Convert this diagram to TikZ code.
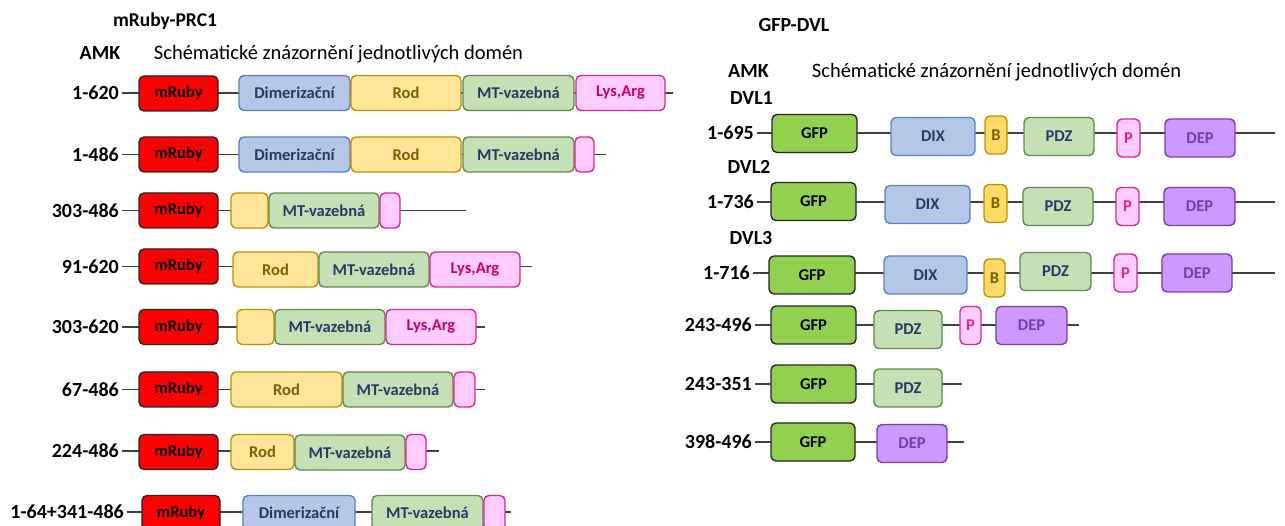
\documentclass[tikz,border=0pt]{standalone}
\usepackage{fontspec}
\setmainfont{Carlito}
\usetikzlibrary{positioning}

\definecolor{rubyred}{HTML}{FF0000}
\definecolor{dimblue}{HTML}{B4C7E7}
\definecolor{dimedge}{HTML}{5B80C4}
\definecolor{navytext}{HTML}{263A66}
\definecolor{rodyellow}{HTML}{FFE699}
\definecolor{rodedge}{HTML}{BF9000}
\definecolor{rodtext}{HTML}{7F6000}
\definecolor{mtgreen}{HTML}{C5E0B4}
\definecolor{mtedge}{HTML}{5E8A4A}
\definecolor{lyspink}{HTML}{FFCCFF}
\definecolor{lysedge}{HTML}{E0258A}
\definecolor{lystext}{HTML}{CC0066}
\definecolor{gfpgreen}{HTML}{92D050}
\definecolor{byellow}{HTML}{FFD966}
\definecolor{deppurple}{HTML}{CC99FF}
\definecolor{depedge}{HTML}{7A3AB0}

\begin{document}
\begin{tikzpicture}[x=1pt,y=-1pt,
    dom/.style={draw, rounded corners=5pt, line width=1.4pt, minimum height=35pt,
        inner sep=0pt, font=\bfseries\fontsize{16.5}{17}\selectfont},
    ruby/.style={dom, fill=rubyred, draw=black!85, text=black},
    dimer/.style={dom, fill=dimblue, draw=dimedge, text=navytext},
    rod/.style={dom, fill=rodyellow, draw=rodedge, text=rodtext},
    mtb/.style={dom, fill=mtgreen, draw=mtedge, text=navytext},
    lys/.style={dom, fill=lyspink, draw=lysedge, text=lystext},
    gfp/.style={dom, minimum height=38pt, fill=gfpgreen, draw=black!85, text=black},
    dix/.style={dimer, minimum height=38pt},
    bbox/.style={dom, minimum height=38pt, fill=byellow, draw=rodedge, text=rodtext},
    pdz/.style={mtb, minimum height=38pt},
    pbox/.style={lys, minimum height=38pt, text=lysedge},
    dep/.style={dom, minimum height=38pt, fill=deppurple, draw=depedge, text=depedge},
    head/.style={anchor=base, inner sep=0pt, font=\fontsize{20.5}{21}\selectfont},
    amk/.style={anchor=base, inner sep=0pt, font=\bfseries\fontsize{20}{21}\selectfont},
    lbl/.style={anchor=east, inner sep=3pt, font=\bfseries\fontsize{20}{21}\selectfont},
    chain/.style={line width=1.2pt, draw=black!75}]

\clip (0,0) rectangle (1285,526);

%%%% mRuby-PRC1
\node[amk, font=\bfseries\fontsize{19.5}{21}\selectfont] (ttl) at (165,27) {mRuby-PRC1};
\node[amk] (amkl) at (100,60) {AMK};
\node[head] (schl) at (338.5,60) {Schématické znázornění jednotlivých domén};

% 1-620
\node[lbl] (a1) at (122,93) {1-620};
\coordinate (a1e) at (673,93);
\draw[chain] (a1) -- (a1e);
\node[ruby, minimum width=79] (a1r) at (178.5,93.5) {mRuby};
\node[dimer, minimum width=111] (a1d) at (294.5,93) {Dimerizační};
\node[rod, minimum width=110] (a1o) at (406,93) {Rod};
\node[mtb, minimum width=111] (a1m) at (518.5,93) {MT-vazebná};
\node[lys, minimum width=89] (a1l) at (620.5,93) {Lys,Arg};

% 1-486
\node[lbl] (a2) at (122,154.5) {1-486};
\coordinate (a2e) at (606,154.5);
\draw[chain] (a2) -- (a2e);
\node[ruby, minimum width=79] (a2r) at (178.5,154.5) {mRuby};
\node[dimer, minimum width=111] (a2d) at (294.5,154.5) {Dimerizační};
\node[rod, minimum width=110] (a2o) at (406,154.5) {Rod};
\node[mtb, minimum width=111] (a2m) at (518.5,154.5) {MT-vazebná};
\node[lys, minimum width=19] (a2l) at (584.5,154.5) {};

% 303-486
\node[lbl] (a3) at (122,210.5) {303-486};
\coordinate (a3e) at (466,210.5);
\draw[chain] (a3) -- (a3e);
\node[ruby, minimum width=79] (a3r) at (178.5,210.5) {mRuby};
\node[rod, minimum width=37] (a3o) at (249.5,210.5) {};
\node[mtb, minimum width=110] (a3m) at (324,210.5) {MT-vazebná};
\node[lys, minimum width=20] (a3l) at (390,210.5) {};

% 91-620
\node[lbl] (a4) at (122,266.5) {91-620};
\coordinate (a4e) at (532,266.5);
\draw[chain] (a4) -- (a4e);
\node[ruby, minimum width=79] (a4r) at (178.5,266.5) {mRuby};
\node[rod, minimum width=85] (a4o) at (275.5,269.5) {Rod};
\node[mtb, minimum width=110] (a4m) at (374,269.5) {MT-vazebná};
\node[lys, minimum width=90] (a4l) at (475,269.5) {Lys,Arg};

% 303-620
\node[lbl] (a5) at (122,327) {303-620};
\coordinate (a5e) at (485,327);
\draw[chain] (a5) -- (a5e);
\node[ruby, minimum width=79] (a5r) at (178.5,327) {mRuby};
\node[rod, minimum width=37] (a5o) at (255.5,327) {};
\node[mtb, minimum width=110] (a5m) at (330,327) {MT-vazebná};
\node[lys, minimum width=90] (a5l) at (431,327) {Lys,Arg};

% 67-486
\node[lbl] (a6) at (122,389.5) {67-486};
\coordinate (a6e) at (485,389.5);
\draw[chain] (a6) -- (a6e);
\node[ruby, minimum width=79] (a6r) at (178.5,389.5) {mRuby};
\node[rod, minimum width=111] (a6o) at (286.5,389.5) {Rod};
\node[mtb, minimum width=110] (a6m) at (398,389.5) {MT-vazebná};
\node[lys, minimum width=21] (a6l) at (464.5,389.5) {};

% 224-486
\node[lbl] (a7) at (122,451) {224-486};
\coordinate (a7e) at (439,451);
\draw[chain] (a7) -- (a7e);
\node[ruby, minimum width=79] (a7r) at (178.5,452) {mRuby};
\node[rod, minimum width=63] (a7o) at (262.5,452) {Rod};
\node[mtb, minimum width=110] (a7m) at (350,452.5) {MT-vazebná};
\node[lys, minimum width=20] (a7l) at (416,452) {};

% 1-64+341-486
\node[lbl] (a8) at (127,512) {1-64+341-486};
\coordinate (a8e) at (511,512);
\draw[chain] (a8) -- (a8e);
\node[ruby, minimum width=78] (a8r) at (181,513) {mRuby};
\node[dimer, minimum width=112] (a8d) at (299,513) {Dimerizační};
\node[mtb, minimum width=111] (a8m) at (427.5,513) {MT-vazebná};
\node[lys, minimum width=21] (a8l) at (494.5,513) {};

%%%% GFP-DVL
\node[amk] (ttr) at (794,32) {GFP-DVL};
\node[amk] (amkr) at (748.5,78) {AMK};
\node[head] (schr) at (996.5,78) {Schématické znázornění jednotlivých domén};
\node[amk] (dvl1) at (751.5,105) {DVL1};
\node[amk] (dvl2) at (749,174) {DVL2};
\node[amk] (dvl3) at (751,245) {DVL3};

% 1-695
\node[lbl] (b1) at (757,133) {1-695};
\coordinate (b1e) at (1275,133);
\draw[chain] (b1) -- (b1e);
\node[gfp, minimum width=85] (b1g) at (814.5,133.5) {GFP};
\node[dix, minimum width=84] (b1x) at (933,136.5) {DIX};
\node[bbox, minimum width=22] (b1b) at (996,135) {B};
\node[pdz, minimum width=70] (b1p) at (1059,136.5) {PDZ};
\node[pbox, minimum width=23] (b1s) at (1128.5,138) {P};
\node[dep, minimum width=70] (b1d) at (1200,138) {DEP};

% 1-736
\node[lbl] (b2) at (757,202) {1-736};
\coordinate (b2e) at (1275,202);
\draw[chain] (b2) -- (b2e);
\node[gfp, minimum width=85] (b2g) at (813.5,201.5) {GFP};
\node[dix, minimum width=85] (b2x) at (927.5,204.5) {DIX};
\node[bbox, minimum width=23] (b2b) at (995.5,203.5) {B};
\node[pdz, minimum width=70] (b2p) at (1058,206.5) {PDZ};
\node[pbox, minimum width=23] (b2s) at (1127.5,206.5) {P};
\node[dep, minimum width=71] (b2d) at (1199.5,206.5) {DEP};

% 1-716
\node[lbl] (b3) at (753,273) {1-716};
\coordinate (b3e) at (1275,273);
\draw[chain] (b3) -- (b3e);
\node[gfp, minimum width=86] (b3g) at (812,275) {GFP};
\node[dix, minimum width=83] (b3x) at (925.5,275) {DIX};
\node[bbox, minimum width=21] (b3b) at (994.5,278) {B};
\node[pdz, minimum width=71] (b3p) at (1055.5,271.5) {PDZ};
\node[pbox, minimum width=23] (b3s) at (1125.5,273) {P};
\node[dep, minimum width=70] (b3d) at (1197,273) {DEP};

% 243-496
\node[lbl] (b4) at (755,325) {243-496};
\coordinate (b4e) at (1079,325);
\draw[chain] (b4) -- (b4e);
\node[gfp, minimum width=85] (b4g) at (813.5,325) {GFP};
\node[pdz, minimum width=68] (b4p) at (908,329.5) {PDZ};
\node[pbox, minimum width=21] (b4s) at (970.5,325.5) {P};
\node[dep, minimum width=71] (b4d) at (1031.5,325.5) {DEP};

% 243-351
\node[lbl] (b5) at (755,384) {243-351};
\coordinate (b5e) at (962,384);
\draw[chain] (b5) -- (b5e);
\node[gfp, minimum width=85] (b5g) at (813.5,384) {GFP};
\node[pdz, minimum width=68] (b5p) at (908,388) {PDZ};

% 398-496
\node[lbl] (b6) at (755,442) {398-496};
\coordinate (b6e) at (964,442);
\draw[chain] (b6) -- (b6e);
\node[gfp, minimum width=84] (b6g) at (813,442) {GFP};
\node[dep, minimum width=70] (b6d) at (912,443.5) {DEP};

\end{tikzpicture}
\end{document}
